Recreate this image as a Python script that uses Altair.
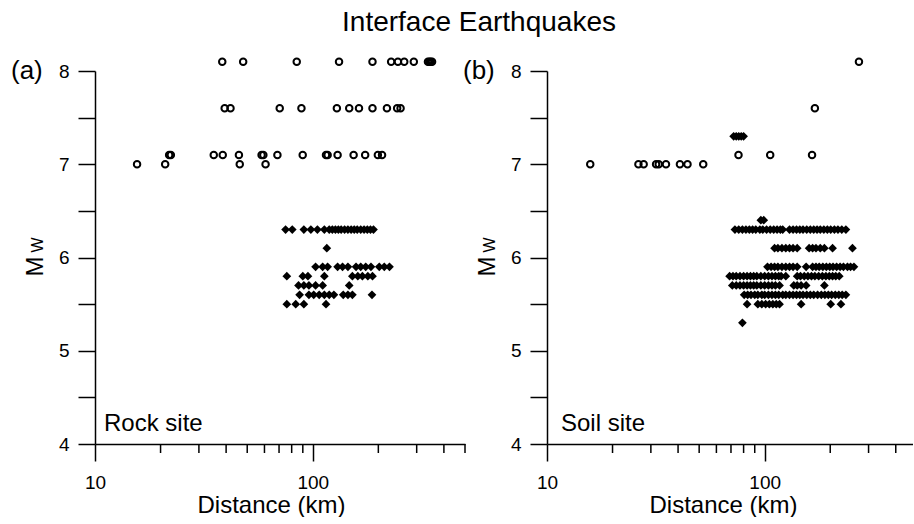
import altair as alt
import pandas as pd

FONT = "Liberation Sans"

# ---------------- data (distance km per magnitude row) ----------------
# (a) Rock site
rock_open = {
    8.1: [38.4, 47.9, 84.4, 132, 188, 229, 246, 263, 291, 338, 343, 348, 353],
    7.6: [39.4, 41.9, 70.5, 88.7, 129, 147, 163, 188, 219, 244, 253],
    7.1: [21.9, 22.3, 35.1, 38.6, 45.8, 58.2, 59.3, 68.8, 89.9, 115, 117, 130, 154, 174, 199, 208],
    7.0: [15.6, 21.0, 46.2, 60.7],
}
rock_filled = {
    6.3: [75, 80.5, 91, 98, 105, 113, 119, 123, 127, 131, 135, 140, 145, 150, 155, 160, 166, 172, 178, 184, 190],
    6.1: [116],
    5.9: [103, 111, 117, 130, 137, 145, 158, 166, 175, 185, 202, 213, 225],
    5.8: [76, 90, 95, 113, 152, 161, 169, 179, 188],
    5.7: [86, 91, 96, 103, 111, 147],
    5.6: [87, 96, 101, 107, 113, 119, 125, 138, 145, 152, 187],
    5.5: [76, 83.5, 91, 115],
}

# (b) Soil site
soil_open = {
    8.1: [271],
    7.6: [170],
    7.1: [75.8, 106, 165],
    7.0: [15.8, 26.3, 27.8, 31.7, 32.6, 35.2, 40.8, 44.2, 52.2],
}
soil_filled = {
    7.3: [72, 74, 76, 78, 80],
    6.4: [96, 99],
    6.3: [73, 76, 79, 82, 85, 88, 91, 95, 98, 102, 106, 110, 114, 118, 121,
          130, 135, 140, 145, 150, 156, 162, 168, 174, 180, 187, 194, 201, 209, 217, 226, 236],
    6.1: [111, 115, 120, 125, 130, 135, 141, 160, 166, 172, 180, 188, 205, 253],
    5.9: [103, 107, 111, 115, 120, 125, 130, 135, 141, 155, 166, 172, 178, 185, 192,
          199, 206, 214, 222, 230, 240, 248, 257],
    5.8: [69, 71.5, 74, 77, 80, 83, 86, 89, 92, 96, 100, 104, 108, 112, 116, 119, 125,
          141, 146, 152, 158, 164, 170, 177, 184, 191, 198, 205, 212, 220],
    5.7: [71, 74, 77, 80, 83, 86, 89, 92, 96, 100, 104, 108, 112, 117, 136, 141, 147, 155, 188],
    5.6: [80.5, 83.5, 86.5, 90, 93, 97, 100, 104, 108, 112, 116, 121, 125, 130, 135, 140,
          145, 150, 156, 162, 168, 175, 182, 189, 196, 203, 211, 219, 227, 236],
    5.5: [83, 93, 97, 101, 105, 109, 113, 117, 147, 201, 224],
    5.3: [79],
}

major_ticks = [10, 100]
minor_ticks_a = [20, 30, 40, 50, 60, 70, 80, 90, 200, 300, 400, 500]
minor_ticks_b = [20, 30, 40, 50, 60, 70, 80, 90, 200, 300, 400]
mw_ticks = [4, 4.5, 5, 5.5, 6, 6.5, 7, 7.5, 8]


def rows_to_df(rows):
    return pd.DataFrame([{"d": d, "m": m} for m, ds in rows.items() for d in ds])


H = 373


def panel(open_rows, filled_rows, minor, xmax, width, tag, site, site_dx, with_title):
    xs = alt.Scale(type="log", domain=[10, xmax], nice=False)
    ys = alt.Scale(domain=[4, 8], nice=False, zero=False)
    x_enc = alt.X("d:Q", scale=xs, axis=alt.Axis(
        values=major_ticks, labelExpr="'' + datum.value", tickSize=17,
        labelPadding=12, labelFontSize=19, labelFlush=False,
        title="Distance (km)", titleX=176, titleY=68, titleBaseline="alphabetic",
        titleAlign="center", titleFontSize=24))
    y_enc = alt.Y("m:Q", scale=ys, axis=alt.Axis(
        values=mw_ticks, labelExpr="datum.value % 1 == 0 ? '' + datum.value : ''",
        tickSize=17, labelPadding=9, labelFontSize=19, labelFlush=False,
        title="M", titleAngle=270, titleX=-60, titleY=195, titleAlign="center",
        titleBaseline="middle", titleFontSize=24))

    circles = alt.Chart(rows_to_df(open_rows)).mark_point(
        shape="circle", size=42, strokeWidth=2, color="black", filled=False, opacity=1
    ).encode(x=x_enc, y=y_enc)
    diamonds = alt.Chart(rows_to_df(filled_rows)).mark_point(
        shape="diamond", size=76, color="black", filled=True, opacity=1
    ).encode(x=x_enc, y=y_enc)
    minor_rules = alt.Chart(pd.DataFrame({"d": minor})).mark_rule(
        color="black", strokeWidth=1.5
    ).encode(x=x_enc, y=alt.value(H), y2=alt.value(H + 9))

    one = pd.DataFrame({"a": [0]})
    tag_t = alt.Chart(one).mark_text(text=tag, fontSize=26, align="left", baseline="middle").encode(
        x=alt.value(-84), y=alt.value(0))
    w_t = alt.Chart(one).mark_text(text="W", fontSize=16, angle=270, align="center", baseline="middle").encode(
        x=alt.value(-57), y=alt.value(174))
    site_t = alt.Chart(one).mark_text(text=site, fontSize=24, align="left", baseline="alphabetic").encode(
        x=alt.value(site_dx), y=alt.value(360))
    layers = [minor_rules, circles, diamonds, tag_t, w_t, site_t]
    if with_title:
        title_t = alt.Chart(one).mark_text(text="Interface Earthquakes", fontSize=28, align="center",
                                           baseline="alphabetic").encode(x=alt.value(384), y=alt.value(-40))
        layers.append(title_t)
    return alt.layer(*layers).properties(width=width, height=H)


left = panel(rock_open, rock_filled, minor_ticks_a, 500, 370, "(a)", "Rock site", 9, True)
right = panel(soil_open, soil_filled, minor_ticks_b, 480, 366, "(b)", "Soil site", 14, False)

chart = alt.hconcat(left, right, spacing=82, bounds="flush").properties(
    padding={"left": 11, "top": 9, "right": 0, "bottom": 0}
).configure_view(strokeWidth=0).configure_axis(
    domainColor="black", tickColor="black", labelColor="black", titleColor="black",
    domainWidth=1.5, tickWidth=1.5, grid=False, labelFont=FONT, titleFont=FONT,
    titleFontWeight="normal"
).configure_text(font=FONT, color="black")

chart.save("out.html", embed_options={"renderer": "svg", "actions": False})
